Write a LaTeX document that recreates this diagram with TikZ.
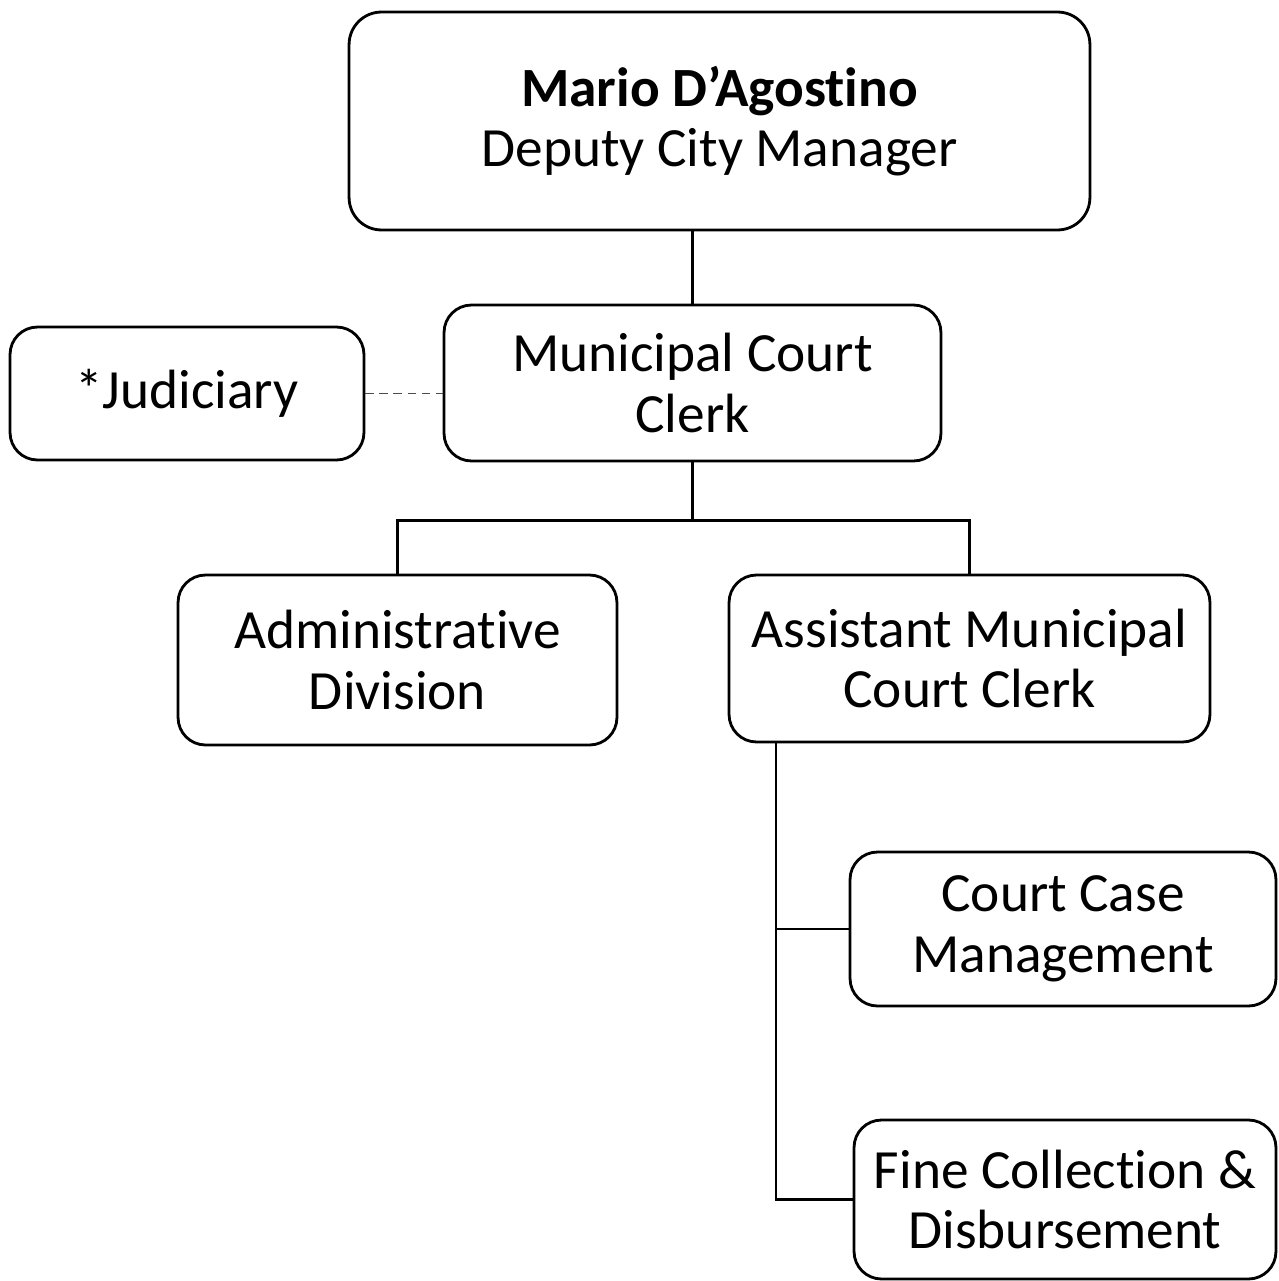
\documentclass[tikz,border=0pt]{standalone}
\usepackage{fontspec}
\setmainfont[Ligatures=CommonOff]{Carlito}
\tikzset{
  unit/.style={draw, line width=1.6pt, rounded corners=0.55cm, align=center,
    inner sep=0pt, font=\fontsize{31.5}{34.5}\selectfont},
  link/.style={line width=1.3pt},
  dotlink/.style={line width=0.6pt, black!70, dash pattern=on 5pt off 3pt}
}
\begin{document}
\begin{tikzpicture}[x=0.02cm,y=-0.02cm]
	\useasboundingbox (0,0) rectangle (1278,1281);
	% boxes
	\node[unit, rounded corners=0.65cm, minimum width=14.82cm, minimum height=4.36cm] (dcm) at (719.5,121)
		{\textbf{Mario D’Agostino}\\Deputy City Manager};
	\node[unit, minimum width=9.94cm, minimum height=3.12cm] (clerk) at (692.5,383) {Municipal Court\\Clerk};
	\node[unit, minimum width=7.08cm, minimum height=2.66cm] (judic) at (187,393.5) {*Judiciary};
	\node[unit, minimum width=8.78cm, minimum height=3.4cm] (admin) at (397.5,660) {Administrative\\Division};
	\node[unit, minimum width=9.62cm, minimum height=3.34cm] (asst) at (969.5,658.5) {Assistant Municipal\\Court Clerk};
	\node[unit, minimum width=8.52cm, minimum height=3.08cm] (cases) at (1063,929) {Court Case\\Management};
	\node[unit, minimum width=8.44cm, minimum height=3.18cm] (fines) at (1065,1199.5) {Fine Collection \&\\Disbursement};
	% connectors
	\draw[link] (clerk.north) -- (clerk.north |- dcm.south);
	\draw[dotlink] (judic.east) -- (clerk.west |- judic.east);
	\path (clerk.south) ++(0,58) coordinate (bar);
	\draw[link] (clerk.south) -- (bar) -| (admin.north);
	\draw[link] (bar) -| (asst.north);
	\path (asst.south west) ++(48,0) coordinate (spine);
	\draw[link] (spine) -- (spine |- fines.west) -- (fines.west);
	\draw[link] (spine |- cases.west) -- (cases.west);
\end{tikzpicture}
\end{document}
